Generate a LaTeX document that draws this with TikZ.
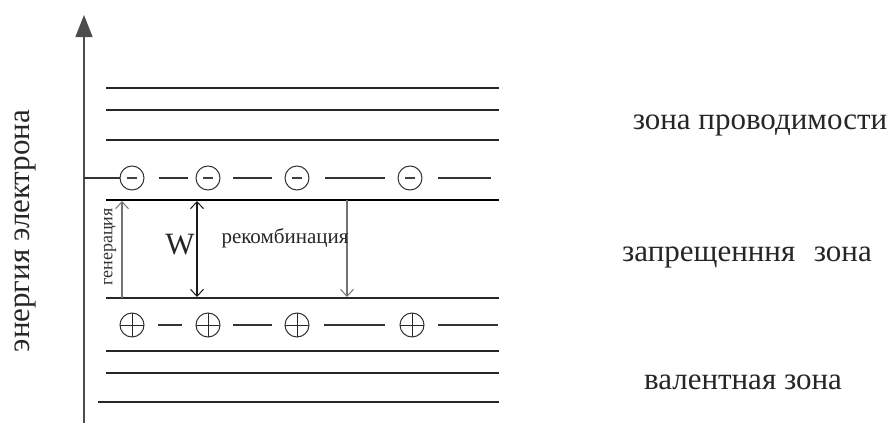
\documentclass[tikz,border=0pt]{standalone}
\usepackage{fontspec}
\setmainfont{Liberation Serif}
\usetikzlibrary{arrows.meta}
\begin{document}
\begin{tikzpicture}[x=1pt,y=-1pt,
  level/.style={line width=1.3pt, draw=black!85},
  dashseg/.style={line width=1.3pt, draw=black!80},
  charge/.style={circle, draw=black!80, line width=1pt, minimum size=24pt, inner sep=0pt},
  electron/.style={charge, path picture={
      \draw[line width=2.6pt, black!75]
        ([xshift=-5pt]path picture bounding box.center) --
        ([xshift=5pt]path picture bounding box.center);}},
  hole/.style={charge, path picture={
      \draw[line width=1pt, black!85]
        ([xshift=-13pt]path picture bounding box.center) --
        ([xshift=13pt]path picture bounding box.center)
        ([yshift=-13pt]path picture bounding box.center) --
        ([yshift=13pt]path picture bounding box.center);}},
  bigtext/.style={text=black!85, font=\fontsize{31}{34}\selectfont, inner sep=0pt},
  midtext/.style={text=black!85, font=\fontsize{21}{23}\selectfont, inner sep=0pt},
  smalltext/.style={text=black!80, font=\fontsize{18}{20}\selectfont, inner sep=0pt},
  transition/.style={line width=1.3pt, draw=black!55, -{Straight Barb[length=7pt,width=13pt,line width=1pt]}},
  gapwidth/.style={line width=1.3pt, draw=black!90, {Straight Barb[length=7pt,width=13pt,line width=1pt]}-{Straight Barb[length=7pt,width=13pt,line width=1pt]}},
]
\useasboundingbox (0,0) rectangle (892,423);

% energy axis
\coordinate (axbot) at (84,423);
\coordinate (axtop) at (84,15);
\draw[line width=1.4pt, draw=black!70, -{Triangle[length=22pt,width=17pt]}] (axbot) -- (axtop);
\node[bigtext, rotate=90] (energy) at (25,231) {энергия электрона};

% conduction band levels
\draw[level] (106,88) -- (499,88);
\draw[level] (106,110) -- (499,110);
\draw[level] (106,140) -- (499,140);

% electrons at the bottom of the conduction band
\coordinate (eaxis) at (84,178);
\node[electron] (e1) at (132,178) {};
\node[electron] (e2) at (208,178) {};
\node[electron] (e3) at (297,178) {};
\node[electron] (e4) at (410,178) {};
\draw[dashseg] (eaxis) -- (e1.west);
\draw[dashseg] (159,178) -- (188,178);
\draw[dashseg] (233,178) -- (272,178);
\draw[dashseg] (325,178) -- (385,178);
\draw[dashseg] (438,178) -- (491,178);

% band edges
\coordinate (cbL) at (106,200);
\coordinate (cbR) at (499,200);
\coordinate (vbL) at (106,298);
\coordinate (vbR) at (499,298);
\draw[level, draw=black] (cbL) -- (cbR);
\draw[level] (vbL) -- (vbR);

% holes at the top of the valence band
\node[hole] (h1) at (132,325) {};
\node[hole] (h2) at (208,325) {};
\node[hole] (h3) at (297,325) {};
\node[hole] (h4) at (412,325) {};
\draw[dashseg] (158,325) -- (182,325);
\draw[dashseg] (233,325) -- (272,325);
\draw[dashseg] (324,325) -- (385,325);
\draw[dashseg] (438,325) -- (498,325);

% valence band levels
\draw[level] (106,351) -- (499,351);
\draw[level] (106,373) -- (499,373);
\draw[level] (98,402) -- (499,402);

% transitions across the gap
\coordinate (gb) at (122,298);
\coordinate (gt) at (122,201);
\draw[transition] (gb) -- (gt);
\node[smalltext, rotate=90] (gen) at (110,247) {генерация};

\coordinate (wt) at (197,201);
\coordinate (wb) at (197,297);
\draw[gapwidth] (wt) -- (wb);
\node[bigtext] (W) at (180,245) {W};

\coordinate (rt) at (347,200);
\coordinate (rb) at (347,297);
\draw[transition] (rt) -- (rb);
\node[midtext] (rec) at (285,238) {рекомбинация};

% zone names
\node[bigtext] (cond) at (760,125) {зона проводимости};
\node[bigtext] (gap) at (747,257) {запрещенння\hspace{0.6em}зона};
\node[bigtext] (val) at (743,382) {валентная зона};
\end{tikzpicture}
\end{document}
